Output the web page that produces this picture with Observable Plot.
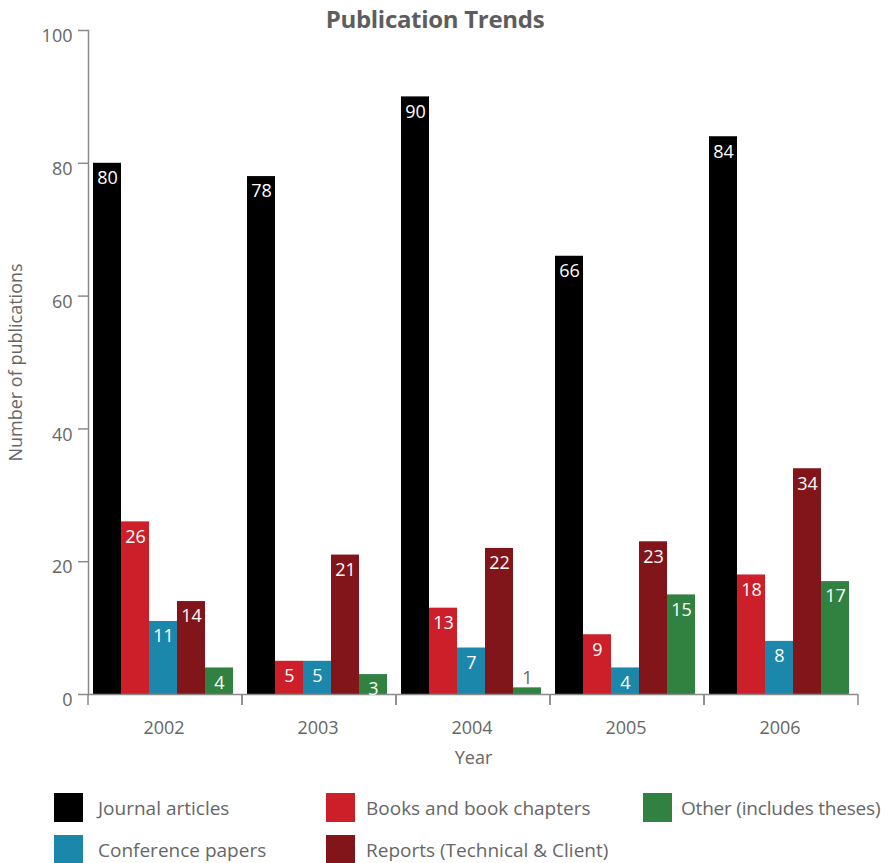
<!DOCTYPE html>
<html>
<head>
<meta charset="utf-8">
<script src="https://cdn.jsdelivr.net/npm/d3@7"></script>
<script src="https://cdn.jsdelivr.net/npm/@observablehq/plot@0.6"></script>
<style>
  body { margin: 0; background: #fff; font-family: "Open Sans", sans-serif; }
  #wrap { position: relative; width: 889px; }
  #title { position: absolute; top: 2px; left: 0; width: 870px; text-align: center;
           font-weight: 700; font-size: 24px; color: #5d5d5d; letter-spacing: -0.3px; }
  #legend { display: grid; grid-template-columns: 272px 317px auto; grid-template-rows: 29px 29px;
            grid-auto-flow: column; row-gap: 13px; padding: 13px 0 0 54px; }
  .item { display: flex; align-items: center; font-size: 19px; color: #666; white-space: nowrap; }
  .sw { width: 29px; height: 29px; margin-right: 15px; flex: none; }
  .col2 .sw { margin-right: 11px; }
  .col3 .sw { margin-right: 9px; }
  .col3 span { letter-spacing: -0.2px; }
</style>
</head>
<body>
<div id="wrap">
  <div id="title">Publication Trends</div>
  <div id="chart"></div>
  <div id="legend"></div>
</div>
<script>
// Publication counts per year, one array per publication type
const years = ["2002", "2003", "2004", "2005", "2006"];
const categories = [
  "Journal articles",
  "Books and book chapters",
  "Conference papers",
  "Reports (Technical & Client)",
  "Other (includes theses)"
];
const colors = ["#000000", "#cd1f2a", "#1b87aa", "#82151a", "#318241"];
const journal = [80, 78, 90, 66, 84];
const books = [26, 5, 13, 9, 18];
const conference = [11, 5, 7, 4, 8];
const reports = [14, 21, 22, 23, 34];
const other = [4, 3, 1, 15, 17];
const yTicks = [0, 20, 40, 60, 80, 100];
const legendOrder = [0, 2, 1, 3, 4];

const series = [journal, books, conference, reports, other];
const rows = years.flatMap((year, i) =>
  categories.map((category, j) => ({year, category, value: series[j][i]}))
);

const axisColor = "#8a8a8a";
const textColor = "#666";

// Short ticks below the baseline at each year's group boundary
function groupEdges(index, scales, values, dimensions) {
  const {x, y} = scales;
  const [x0, x1] = x.range();
  const y0 = y(0);
  const g = d3.create("svg:g")
    .attr("stroke", axisColor)
    .attr("stroke-width", 1.5);
  g.selectAll("line")
    .data([x0, x1])
    .join("line")
    .attr("x1", d => d).attr("x2", d => d)
    .attr("y1", y0).attr("y2", y0 + 11);
  return g.node();
}

const inside = rows.filter(d => d.value >= 3);
const outside = rows.filter(d => d.value < 3);

const chart = Plot.plot({
  width: 889,
  height: 780,
  marginLeft: 87,
  marginRight: 30,
  marginTop: 30,
  marginBottom: 86,
  style: {fontFamily: "'Open Sans', sans-serif", fontSize: "18px", color: textColor, background: "transparent"},
  fx: {domain: years, padding: 0},
  x: {domain: categories, paddingInner: 0, paddingOuter: 0.19, align: 0.38, axis: null},
  y: {domain: [0, 100]},
  color: {domain: categories, range: colors},
  marks: [
    Plot.barY(rows, {fx: "year", x: "category", y: "value", fill: "category"}),
    Plot.ruleY([0], {stroke: axisColor, strokeWidth: 1.5}),
    Plot.frame({anchor: "left", facetAnchor: "left", stroke: axisColor, strokeWidth: 1.5}),
    groupEdges,
    Plot.text(inside, {fx: "year", x: "category", y: "value", text: d => String(d.value),
      dy: 15, fill: "white", fontSize: 18}),
    Plot.text(outside, {fx: "year", x: "category", y: "value", text: d => String(d.value),
      dy: -10, fill: textColor, fontSize: 18}),
    Plot.axisY({ticks: yTicks, tickSize: 10, text: null, stroke: axisColor, strokeWidth: 1.5, label: null}),
    Plot.axisY({ticks: yTicks, tickSize: 0, tickPadding: 16, dy: 6, fill: textColor, fontSize: 18,
      label: "Number of publications", labelAnchor: "center", labelOffset: 79, labelArrow: false}),
    Plot.axisFx({anchor: "bottom", tickSize: 0, tickPadding: 27, dx: -1.5, fill: textColor, fontSize: 18,
      label: "Year", labelAnchor: "center", labelOffset: 69, labelArrow: false})
  ]
});
document.getElementById("chart").appendChild(chart);

// Legend swatches, laid out in two rows
const legend = d3.select("#legend");
legendOrder.forEach((j, k) => {
  const item = legend.append("div").attr("class", `item col${Math.floor(k / 2) + 1}`);
  item.append("div").attr("class", "sw").style("background", colors[j]);
  item.append("span").text(categories[j]);
});
</script>
</body>
</html>
